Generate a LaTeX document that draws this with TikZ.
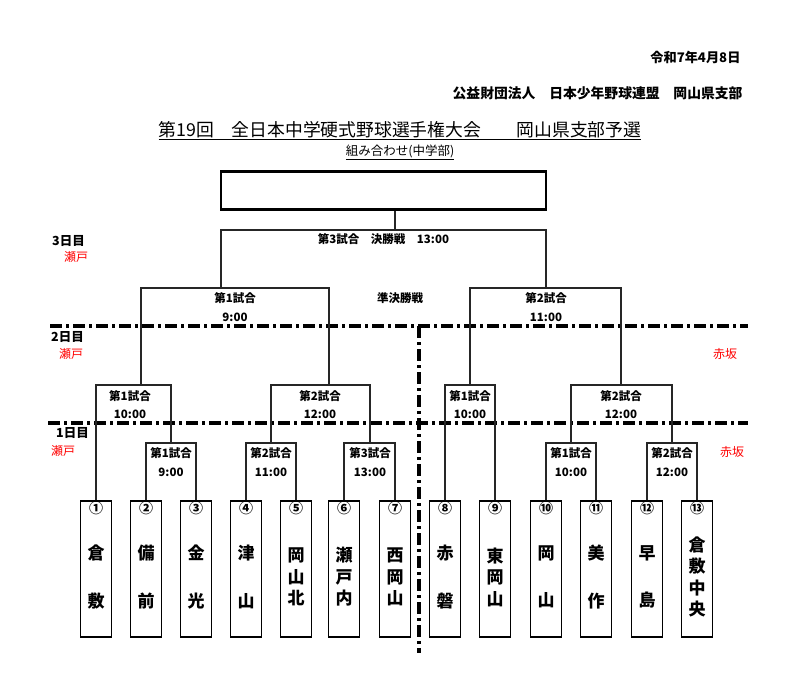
\documentclass[tikz,border=0pt]{standalone}
\usepackage{fontspec}
\setmainfont{Noto Sans CJK JP}
\usetikzlibrary{positioning}

\begin{document}
\begin{tikzpicture}[x=1pt, y=-1pt,
  team/.style={draw, line width=1.2pt, minimum width=31pt, minimum height=136pt, inner sep=0pt},
  teamname/.style={font=\fontsize{17}{21.5}\selectfont\bfseries, align=center, inner sep=0pt},
  teamnum/.style={font=\fontsize{14}{14}\selectfont\bfseries, inner sep=0pt},
  game/.style={font=\fontsize{11.5}{11.5}\selectfont\bfseries, inner sep=0pt},
  daylabel/.style={font=\fontsize{12.5}{12.5}\selectfont\bfseries, inner sep=0pt, anchor=west},
  site/.style={font=\fontsize{12}{12}\selectfont, text=red, inner sep=0pt},
  bline/.style={line width=1.2pt, draw=black!85},
  dayline/.style={line width=3.2pt, dash pattern=on 12pt off 4pt on 3pt off 4pt}]
  \useasboundingbox (0,0) rectangle (800,687);

  % header
  \node (date)  [anchor=east, font=\fontsize{13.2}{13.2}\selectfont\bfseries]
                at (744,57) {令和7年4月8日};
  \node (org)   [anchor=east, font=\fontsize{13.8}{13.8}\selectfont\bfseries]
                at (746,93) {公益財団法人　日本少年野球連盟　岡山県支部};
  \node (title) [font=\fontsize{17.8}{17.8}\selectfont, inner sep=0pt]
                at (400,131) {\underline{第19回　全日本中学硬式野球選手権大会　　岡山県支部予選}};
  \node (sub)   [font=\fontsize{12.5}{12.5}\selectfont, inner sep=0pt]
                at (400,152) {\underline{組み合わせ(中学部)}};
  \node (champ) [draw, line width=2.5pt, minimum width=325pt, minimum height=38pt]
                at (383.5,190.5) {};

  % day separators
  \draw[dayline] (50,326) -- (748,326);
  \draw[dayline] (48,423) -- (748,423);
  \draw[dayline] (419,326) -- (419,653);

  % day and site labels
  \node (d3)  [daylabel] at (52,241) {3日目};
  \node (d2)  [daylabel] at (51,337) {2日目};
  \node (d1)  [daylabel] at (56,433) {1日目};
  \node (s3)  [site] at (76,257) {瀬戸};
  \node (s2l) [site] at (71,354) {瀬戸};
  \node (s2r) [site] at (725,354) {赤坂};
  \node (s1l) [site] at (63,451) {瀬戸};
  \node (s1r) [site] at (732,452) {赤坂};

  % teams
  \node (t1)  [team] at (96,569)  {};
  \node (t2)  [team] at (146,569) {};
  \node (t3)  [team] at (196,569) {};
  \node (t4)  [team] at (246,569) {};
  \node (t5)  [team] at (296,569) {};
  \node (t6)  [team] at (344,569) {};
  \node (t7)  [team] at (395,569) {};
  \node (t8)  [team] at (445,569) {};
  \node (t9)  [team] at (495,569) {};
  \node (t10) [team] at (546,569) {};
  \node (t11) [team] at (596,569) {};
  \node (t12) [team] at (647,569) {};
  \node (t13) [team] at (697,569) {};

  \node (c1)  [teamnum, below=1pt of t1.north]  {①};
  \node (c2)  [teamnum, below=1pt of t2.north]  {②};
  \node (c3)  [teamnum, below=1pt of t3.north]  {③};
  \node (c4)  [teamnum, below=1pt of t4.north]  {④};
  \node (c5)  [teamnum, below=1pt of t5.north]  {⑤};
  \node (c6)  [teamnum, below=1pt of t6.north]  {⑥};
  \node (c7)  [teamnum, below=1pt of t7.north]  {⑦};
  \node (c8)  [teamnum, below=1pt of t8.north]  {⑧};
  \node (c9)  [teamnum, below=1pt of t9.north]  {⑨};
  \node (c10) [teamnum, below=1pt of t10.north] {⑩};
  \node (c11) [teamnum, below=1pt of t11.north] {⑪};
  \node (c12) [teamnum, below=1pt of t12.north] {⑫};
  \node (c13) [teamnum, below=1pt of t13.north] {⑬};

  \node (n1)  [teamname] at ([yshift=-8pt]t1.center)  {倉\\[26pt]敷};
  \node (n2)  [teamname] at ([yshift=-8pt]t2.center)  {備\\[26pt]前};
  \node (n3)  [teamname] at ([yshift=-8pt]t3.center)  {金\\[26pt]光};
  \node (n4)  [teamname] at ([yshift=-8pt]t4.center)  {津\\[26pt]山};
  \node (n5)  [teamname] at ([yshift=-8pt]t5.center)  {岡\\山\\北};
  \node (n6)  [teamname] at ([yshift=-8pt]t6.center)  {瀬\\戸\\内};
  \node (n7)  [teamname] at ([yshift=-8pt]t7.center)  {西\\岡\\山};
  \node (n8)  [teamname] at ([yshift=-8pt]t8.center)  {赤\\[26pt]磐};
  \node (n9)  [teamname] at ([yshift=-8pt]t9.center)  {東\\岡\\山};
  \node (n10) [teamname] at ([yshift=-8pt]t10.center) {岡\\[26pt]山};
  \node (n11) [teamname] at ([yshift=-8pt]t11.center) {美\\[26pt]作};
  \node (n12) [teamname] at ([yshift=-8pt]t12.center) {早\\[26pt]島};
  \node (n13) [teamname] at ([yshift=-8pt]t13.center) {倉\\敷\\中\\央};

  % bracket joints
  \coordinate (r1) at (171,443);
  \coordinate (r2) at (271,443);
  \coordinate (r3) at (370,443);
  \coordinate (r4) at (571,443);
  \coordinate (r5) at (672,443);
  \coordinate (q1) at (141,385);
  \coordinate (q2) at (329,385);
  \coordinate (q3) at (470,385);
  \coordinate (q4) at (621,385);
  \coordinate (sf1) at (221,288);
  \coordinate (sf2) at (546,288);
  \coordinate (fin) at (395,230);

  % day 1
  \draw[bline] (t2.north)  |- (r1) -| (t3.north);
  \draw[bline] (t4.north)  |- (r2) -| (t5.north);
  \draw[bline] (t6.north)  |- (r3) -| (t7.north);
  \draw[bline] (t10.north) |- (r4) -| (t11.north);
  \draw[bline] (t12.north) |- (r5) -| (t13.north);
  % day 2
  \draw[bline] (t1.north) |- (q1) -| (r1);
  \draw[bline] (r2) |- (q2) -| (r3);
  \draw[bline] (t8.north) |- (q3) -| (t9.north);
  \draw[bline] (r4) |- (q4) -| (r5);
  % day 3
  \draw[bline] (q1) |- (sf1) -| (q2);
  \draw[bline] (q3) |- (sf2) -| (q4);
  \draw[bline] (sf1) |- (fin) -| (sf2);
  \draw[bline] (fin) -- (fin |- champ.south);

  % game labels
  \node (gf)   [game] at (383.5,239) {第3試合　決勝戦　13:00};
  \node (gsf)  [game] at (400,298) {準決勝戦};
  \node (gs1)  [game] at (235,298) {第1試合};
  \node (gs1t) [game] at (235,317) {9:00};
  \node (gs2)  [game] at (546,298) {第2試合};
  \node (gs2t) [game] at (546,317) {11:00};
  \node (gq1)  [game] at (130,396) {第1試合};
  \node (gq1t) [game] at (130,414) {10:00};
  \node (gq2)  [game] at (320,396) {第2試合};
  \node (gq2t) [game] at (320,414) {12:00};
  \node (gq3)  [game] at (470,396) {第1試合};
  \node (gq3t) [game] at (470,414) {10:00};
  \node (gq4)  [game] at (621,396) {第2試合};
  \node (gq4t) [game] at (621,414) {12:00};
  \node (gr1)  [game] at (171,453) {第1試合};
  \node (gr1t) [game] at (171,472) {9:00};
  \node (gr2)  [game] at (271,453) {第2試合};
  \node (gr2t) [game] at (271,472) {11:00};
  \node (gr3)  [game] at (370,453) {第3試合};
  \node (gr3t) [game] at (370,472) {13:00};
  \node (gr4)  [game] at (571,453) {第1試合};
  \node (gr4t) [game] at (571,472) {10:00};
  \node (gr5)  [game] at (672,453) {第2試合};
  \node (gr5t) [game] at (672,472) {12:00};
\end{tikzpicture}
\end{document}
